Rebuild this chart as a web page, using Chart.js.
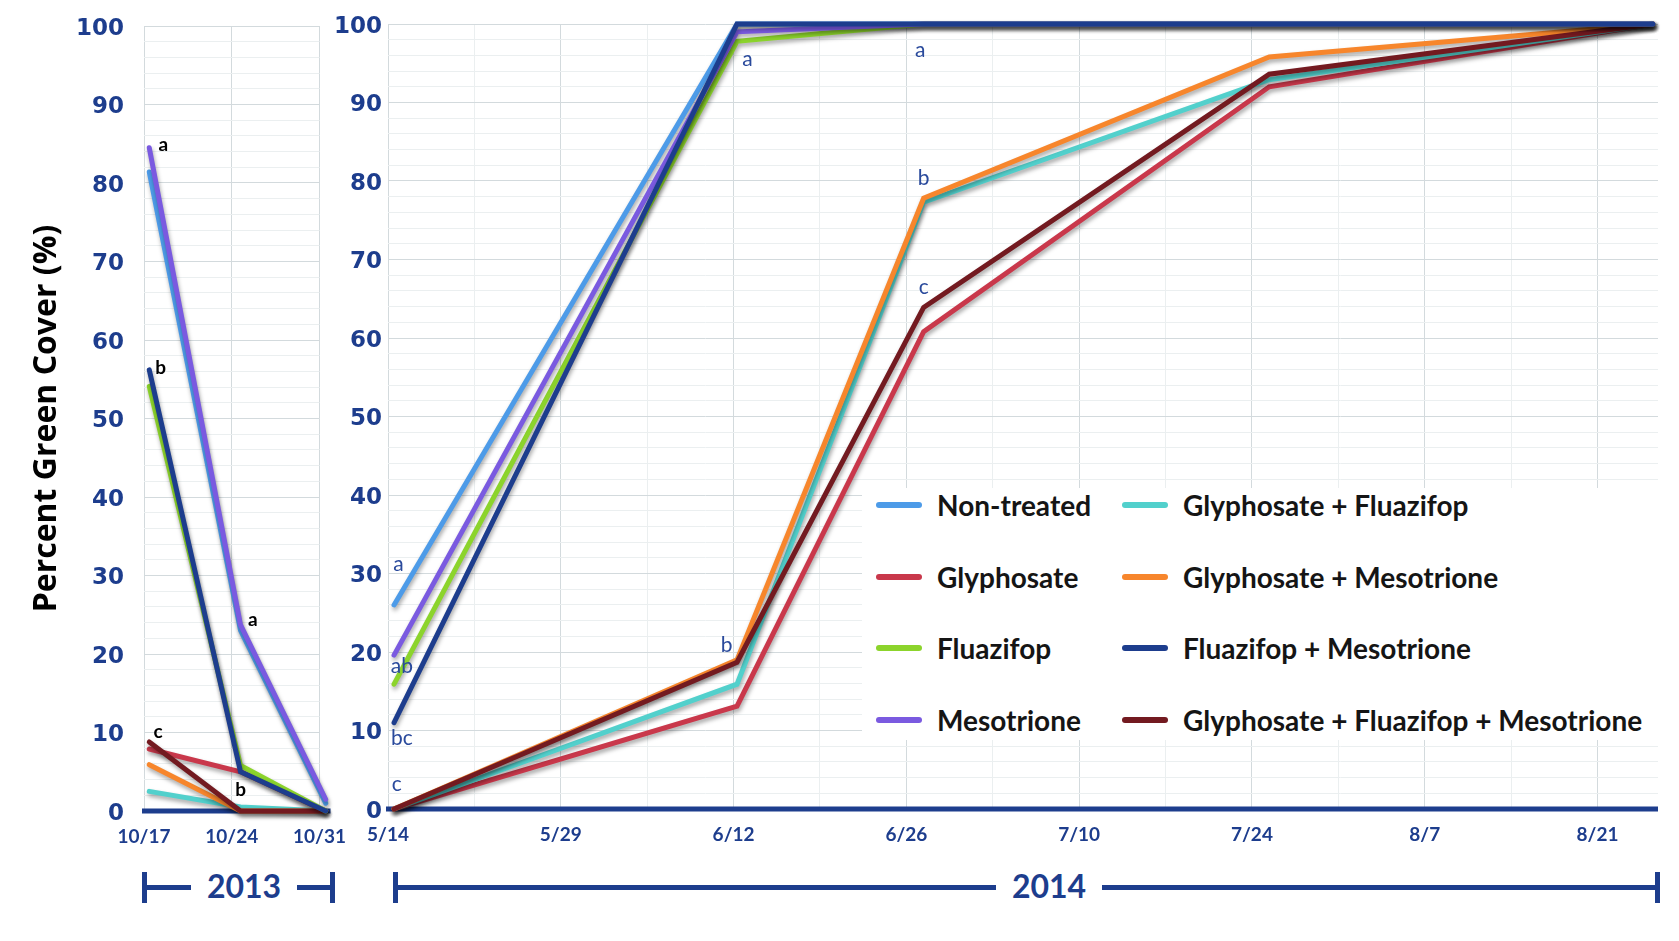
<!DOCTYPE html>
<html>
<head>
<meta charset="utf-8">
<title>Percent Green Cover</title>
<script src="https://cdn.jsdelivr.net/npm/chart.js@4.4.0/dist/chart.umd.min.js"></script>
<style>
  html, body { margin: 0; padding: 0; background: #fff; }
  #wrap { position: relative; width: 1679px; height: 941px; overflow: hidden; }
  #c2013 { position: absolute; left: 0; top: 0; }
  #c2014 { position: absolute; left: 330px; top: 0; }
  #legend {
    position: absolute; left: 862px; top: 488px; width: 796px; height: 252px;
    background: #fff; font-family: Lato, sans-serif; font-weight: 700; font-size: 28px; color: #151515;
  }
  .item { position: absolute; height: 34px; line-height: 34px; display: flex; align-items: center; white-space: nowrap; }
  .swatch { width: 46px; height: 6px; border-radius: 3px; margin-right: 15px; }
  .bar { position: absolute; background: #1d3d8d; }
  .year {
    position: absolute; width: 160px; text-align: center; line-height: 40px;
    font-family: Lato, sans-serif; font-weight: 700; font-size: 32px; color: #1d3d8d;
  }
  .year span { background: #fff; padding: 0 16px; }
</style>
</head>
<body>
<div id="wrap">
  <canvas id="c2013" width="360" height="941"></canvas>
  <canvas id="c2014" width="1349" height="941"></canvas>
  <div id="legend"></div>
  <div id="years"></div>
</div>
<script>
// axis labels
const dates2013 = ['10/17', '10/24', '10/31'];
const dates2014 = ['5/14', '5/29', '6/12', '6/26', '7/10', '7/24', '8/7', '8/21'];
// rating dates expressed in label-index units of each axis
const rated2013 = [0.06, 1.1, 2.07];
const rated2014 = [0.035, 2.02, 3.1, 5.1, 7.32];

const treatments = ['Non-treated', 'Glyphosate', 'Fluazifop', 'Mesotrione',
  'Glyphosate + Fluazifop', 'Glyphosate + Mesotrione', 'Fluazifop + Mesotrione',
  'Glyphosate + Fluazifop + Mesotrione'];
const colors = ['#4d9be8', '#c9384b', '#8cd42c', '#7a5ae0', '#52d0cc', '#f7862c', '#1d3d8d', '#731a20'];
// lower number = drawn on top
const drawOrder = [3, 7, 2, 1, 6, 5, 0, 4];

// percent green cover, 2013
const nonTreated2013 = [81.4, 23.0, 1.0];
const glyphosate2013 = [7.9, 5.0, 0];
const fluazifop2013 = [54.1, 5.8, 0];
const mesotrione2013 = [84.5, 23.7, 1.5];
const glyFlu2013 = [2.5, 0.5, 0];
const glyMeso2013 = [5.9, 0, 0];
const fluMeso2013 = [56.2, 5.0, 0];
const glyFluMeso2013 = [8.8, 0, 0];

// percent green cover, 2014
const nonTreated2014 = [26.0, 100, 100, 100, 100];
const glyphosate2014 = [0, 13.1, 60.8, 92.0, 100];
const fluazifop2014 = [15.9, 97.8, 100, 100, 100];
const mesotrione2014 = [19.6, 99.0, 100, 100, 100];
const glyFlu2014 = [0, 15.9, 77.3, 92.9, 100];
const glyMeso2014 = [0, 19.0, 77.8, 95.8, 100];
const fluMeso2014 = [11.0, 100, 100, 100, 100];
const glyFluMeso2014 = [0, 18.7, 63.9, 93.6, 100];

// mean separation letters
const letters2013 = ['a', 'b', 'c', 'a', 'b'];
const letterX2013 = [0.22, 0.19, 0.16, 1.24, 1.10];
const letterY2013 = [84.8, 56.4, 10.1, 24.3, 2.7];
const letters2014 = ['a', 'ab', 'bc', 'c', 'b', 'a', 'a', 'b', 'c'];
const letterX2014 = [0.06, 0.08, 0.08, 0.05, 1.96, 2.08, 3.08, 3.10, 3.10];
const letterY2014 = [31.2, 18.2, 9.0, 3.2, 20.9, 95.5, 96.7, 80.3, 66.5];

const years = ['2013', '2014'];

const navy = '#1d3d8d';
const majorGrid = '#d3dadd';
const minorGrid = '#ebeff0';

Chart.defaults.font.family = 'Lato, sans-serif';

function buildDatasets(xs, seriesList) {
    return seriesList.map((vals, i) => ({
        label: treatments[i],
        data: vals.map((v, j) => ({x: xs[j], y: v})),
        borderColor: colors[i],
        backgroundColor: colors[i],
        borderWidth: 5,
        borderCapStyle: 'round',
        pointRadius: 0,
        tension: 0,
        clip: false,
        order: drawOrder[i]
    }));
}

// thick axis line along 0
const baseLine = {
    id: 'baseLine',
    beforeDatasetsDraw(chart, args, opts) {
        const {ctx, chartArea, scales: {y}} = chart;
        const yy = y.getPixelForValue(0);
        ctx.save();
        ctx.strokeStyle = navy;
        ctx.lineWidth = 5;
        ctx.beginPath();
        ctx.moveTo(chartArea.left - 2, yy);
        ctx.lineTo(chartArea.right + opts.overhang, yy);
        ctx.stroke();
        ctx.restore();
    }
};

// soft drop shadow under the series lines
const lineShadow = {
    id: 'lineShadow',
    beforeDatasetsDraw(chart) {
        const ctx = chart.ctx;
        ctx.save();
        ctx.shadowColor = 'rgba(0,0,0,0.35)';
        ctx.shadowBlur = 4;
        ctx.shadowOffsetX = 1;
        ctx.shadowOffsetY = 3;
    },
    afterDatasetsDraw(chart) {
        chart.ctx.restore();
    }
};

// letters placed in data coordinates
const letterLabels = {
    id: 'letterLabels',
    afterDatasetsDraw(chart, args, opts) {
        const {ctx, scales: {x, y}} = chart;
        ctx.save();
        ctx.font = opts.font;
        ctx.fillStyle = opts.color;
        ctx.textAlign = 'center';
        ctx.textBaseline = 'middle';
        opts.letters.forEach((t, i) => {
            ctx.fillText(t, x.getPixelForValue(opts.xs[i]), y.getPixelForValue(opts.ys[i]));
        });
        ctx.restore();
    }
};

function yScale(width, pad, withTitle) {
    return {
        min: 0,
        max: 100,
        afterFit: s => {
            s.width = width;
            // keep the plot top where layout.padding puts it
            s.paddingTop = 0;
            s.paddingBottom = 0;
        },
        ticks: {
            stepSize: 2,
            autoSkip: false,
            padding: pad,
            labelOffset: 3,
            color: navy,
            font: {family: 'DejaVu Sans', weight: 'bold', size: 23},
            callback: v => (v % 10 === 0 ? v : '')
        },
        grid: {
            drawTicks: false,
            color: c => (c.tick && c.tick.value % 10 === 0 ? majorGrid : minorGrid)
        },
        border: {display: false},
        title: {
            display: withTitle,
            text: 'Percent Green Cover (%)',
            color: '#000',
            font: {family: 'Open Sans', weight: 'bold', size: 32},
            padding: {top: 28, bottom: 0}
        }
    };
}

function xScale(labels, max, step) {
    return {
        type: 'linear',
        min: 0,
        max: max,
        afterFit: s => { s.height = 40; },
        ticks: {
            stepSize: step,
            includeBounds: false,
            autoSkip: false,
            maxRotation: 0,
            padding: 14,
            color: navy,
            font: {weight: 'bold', size: 19},
            callback: v => (Number.isInteger(v) ? labels[v] : '')
        },
        grid: {
            drawTicks: false,
            color: c => (c.tick && Number.isInteger(c.tick.value) ? majorGrid : minorGrid)
        },
        border: {display: false}
    };
}

new Chart(document.getElementById('c2013'), {
    type: 'line',
    data: {
        datasets: buildDatasets(rated2013, [nonTreated2013, glyphosate2013, fluazifop2013, mesotrione2013,
            glyFlu2013, glyMeso2013, fluMeso2013, glyFluMeso2013])
    },
    options: {
        responsive: false,
        animation: false,
        layout: {padding: {top: 26, right: 36, bottom: 90, left: 0}},
        scales: {x: xScale(dates2013, 2, 1), y: yScale(144, 20, true)},
        plugins: {
            legend: {display: false},
            tooltip: {enabled: false},
            baseLine: {overhang: 11},
            letterLabels: {letters: letters2013, xs: letterX2013, ys: letterY2013,
                font: 'bold 19px Lato', color: '#000'}
        }
    },
    plugins: [baseLine, lineShadow, letterLabels]
});

new Chart(document.getElementById('c2014'), {
    type: 'line',
    data: {
        datasets: buildDatasets(rated2014, [nonTreated2014, glyphosate2014, fluazifop2014, mesotrione2014,
            glyFlu2014, glyMeso2014, fluMeso2014, glyFluMeso2014])
    },
    options: {
        responsive: false,
        animation: false,
        layout: {padding: {top: 24, right: 21, bottom: 92, left: 0}},
        scales: {x: xScale(dates2014, 7.35, 0.5), y: yScale(58, 6, false)},
        plugins: {
            legend: {display: false},
            tooltip: {enabled: false},
            baseLine: {overhang: 0},
            letterLabels: {letters: letters2014, xs: letterX2014, ys: letterY2014,
                font: '21px Lato', color: '#2a4a9c'}
        }
    },
    plugins: [baseLine, lineShadow, letterLabels]
});

// legend: two columns of four
const legend = document.getElementById('legend');
treatments.forEach((name, i) => {
    const item = document.createElement('div');
    item.className = 'item';
    item.style.left = (i < 4 ? 14 : 260) + 'px';
    item.style.top = (i % 4 * 71.5) + 'px';
    const sw = document.createElement('div');
    sw.className = 'swatch';
    sw.style.background = colors[i];
    const label = document.createElement('span');
    label.textContent = name;
    item.appendChild(sw);
    item.appendChild(label);
    legend.appendChild(item);
});

// year brackets under each panel
const yearsBox = document.getElementById('years');
function addBracket(left, right, center, text) {
    const line = document.createElement('div');
    line.className = 'bar';
    line.style.cssText = `left:${left}px;top:885px;width:${right - left}px;height:5px;`;
    yearsBox.appendChild(line);
    [left, right - 5].forEach(x => {
        const tick = document.createElement('div');
        tick.className = 'bar';
        tick.style.cssText = `left:${x}px;top:872px;width:5px;height:31px;`;
        yearsBox.appendChild(tick);
    });
    const lab = document.createElement('div');
    lab.className = 'year';
    lab.style.left = (center - 80) + 'px';
    lab.style.top = '866px';
    lab.innerHTML = '<span>' + text + '</span>';
    yearsBox.appendChild(lab);
}
addBracket(142, 335, 244, years[0]);
addBracket(393, 1660, 1049, years[1]);
</script>
</body>
</html>
